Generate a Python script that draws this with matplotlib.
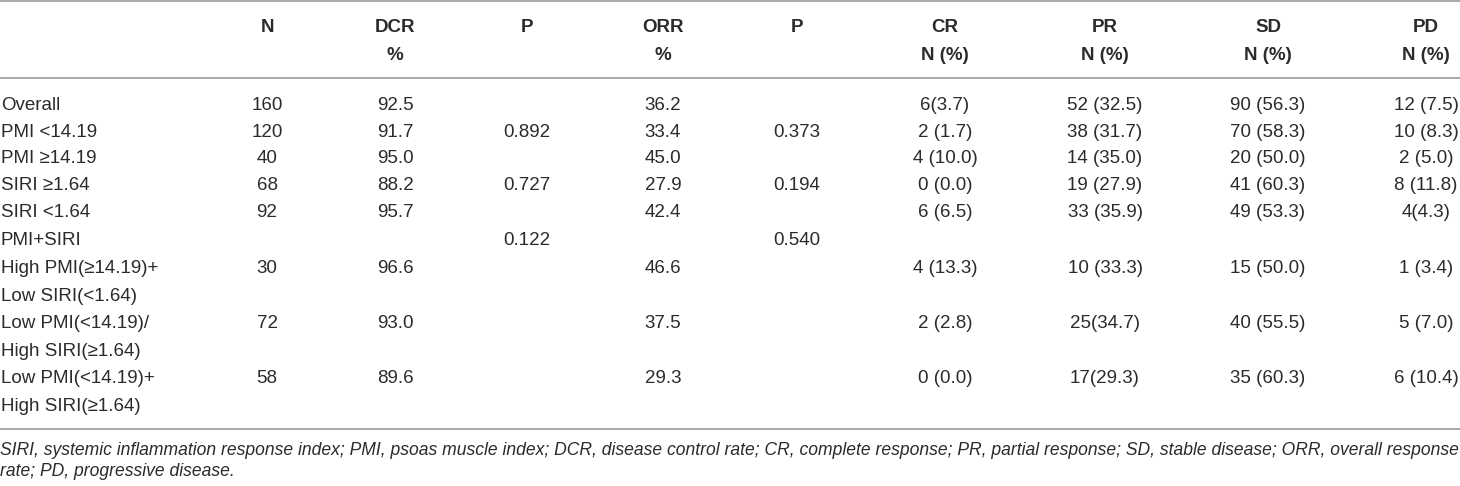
import matplotlib
matplotlib.use('Agg')
import matplotlib.pyplot as plt

matplotlib.rcParams['font.family'] = ['Liberation Sans', 'DejaVu Sans']

# table contents
HEADERS = [('N', ''), ('DCR', '%'), ('P', ''), ('ORR', '%'), ('P', ''),
           ('CR', 'N (%)'), ('PR', 'N (%)'), ('SD', 'N (%)'), ('PD', 'N (%)')]
LABELS = [('Overall', ''), ('PMI <14.19', ''), ('PMI \u226514.19', ''), ('SIRI \u22651.64', ''),
          ('SIRI <1.64', ''), ('PMI+SIRI', ''),
          ('High PMI(\u226514.19)+', 'Low SIRI(<1.64)'),
          ('Low PMI(<14.19)/', 'High SIRI(\u22651.64)'),
          ('Low PMI(<14.19)+', 'High SIRI(\u22651.64)')]
N = ['160', '120', '40', '68', '92', '', '30', '72', '58']
DCR = ['92.5', '91.7', '95.0', '88.2', '95.7', '', '96.6', '93.0', '89.6']
P_DCR = ['', '0.892', '', '0.727', '', '0.122', '', '', '']
ORR = ['36.2', '33.4', '45.0', '27.9', '42.4', '', '46.6', '37.5', '29.3']
P_ORR = ['', '0.373', '', '0.194', '', '0.540', '', '', '']
CR = ['6(3.7)', '2 (1.7)', '4 (10.0)', '0 (0.0)', '6 (6.5)', '', '4 (13.3)', '2 (2.8)', '0 (0.0)']
PR = ['52 (32.5)', '38 (31.7)', '14 (35.0)', '19 (27.9)', '33 (35.9)', '', '10 (33.3)', '25(34.7)', '17(29.3)']
SD = ['90 (56.3)', '70 (58.3)', '20 (50.0)', '41 (60.3)', '49 (53.3)', '', '15 (50.0)', '40 (55.5)', '35 (60.3)']
PD = ['12 (7.5)', '10 (8.3)', '2 (5.0)', '8 (11.8)', '4(4.3)', '', '1 (3.4)', '5 (7.0)', '6 (10.4)']
FOOTNOTE = ['SIRI, systemic inflammation response index; PMI, psoas muscle index; DCR, disease control rate; '
            'CR, complete response; PR, partial response; SD, stable disease; ORR, overall response',
            'rate; PD, progressive disease.']

COLUMNS = [N, DCR, P_DCR, ORR, P_ORR, CR, PR, SD, PD]

# layout in pixels
COL_X = [267, 395, 527, 663, 797, 945, 1105, 1268, 1426]
ROW_Y = [105, 132, 158, 185, 212, 240, 268, 323, 378]
SUB_DY = 28.5
TXT = '#2b2b2b'
LINE = '#9a9a9a'
FS = 13.5

fig = plt.figure(figsize=(14.6, 4.86), dpi=100)
ax = fig.add_axes([0, 0, 1, 1])
ax.set_xlim(0, 1460)
ax.set_ylim(486, 0)
ax.axis('off')

for y in [1.5, 78, 429]:
    ax.plot([0, 1460], [y, y], color=LINE, lw=1.2, solid_capstyle='butt')

for x, (h1, h2) in zip(COL_X, HEADERS):
    ax.text(x, 27, h1, ha='center', va='center', fontsize=FS, fontweight='bold', color=TXT)
    if h2:
        ax.text(x, 55, h2, ha='center', va='center', fontsize=FS, fontweight='bold', color=TXT)

for y, (l1, l2) in zip(ROW_Y, LABELS):
    ax.text(1, y, l1, ha='left', va='center', fontsize=FS, color=TXT)
    if l2:
        ax.text(1, y + SUB_DY, l2, ha='left', va='center', fontsize=FS, color=TXT)

for x, col in zip(COL_X, COLUMNS):
    for y, val in zip(ROW_Y, col):
        if val:
            ax.text(x, y, val, ha='center', va='center', fontsize=FS, color=TXT)

for i, line in enumerate(FOOTNOTE):
    ax.text(0, 450 + 21 * i, line, ha='left', va='center', fontsize=12.65,
            style='italic', color=TXT)

fig.savefig('out.png', dpi=100)
